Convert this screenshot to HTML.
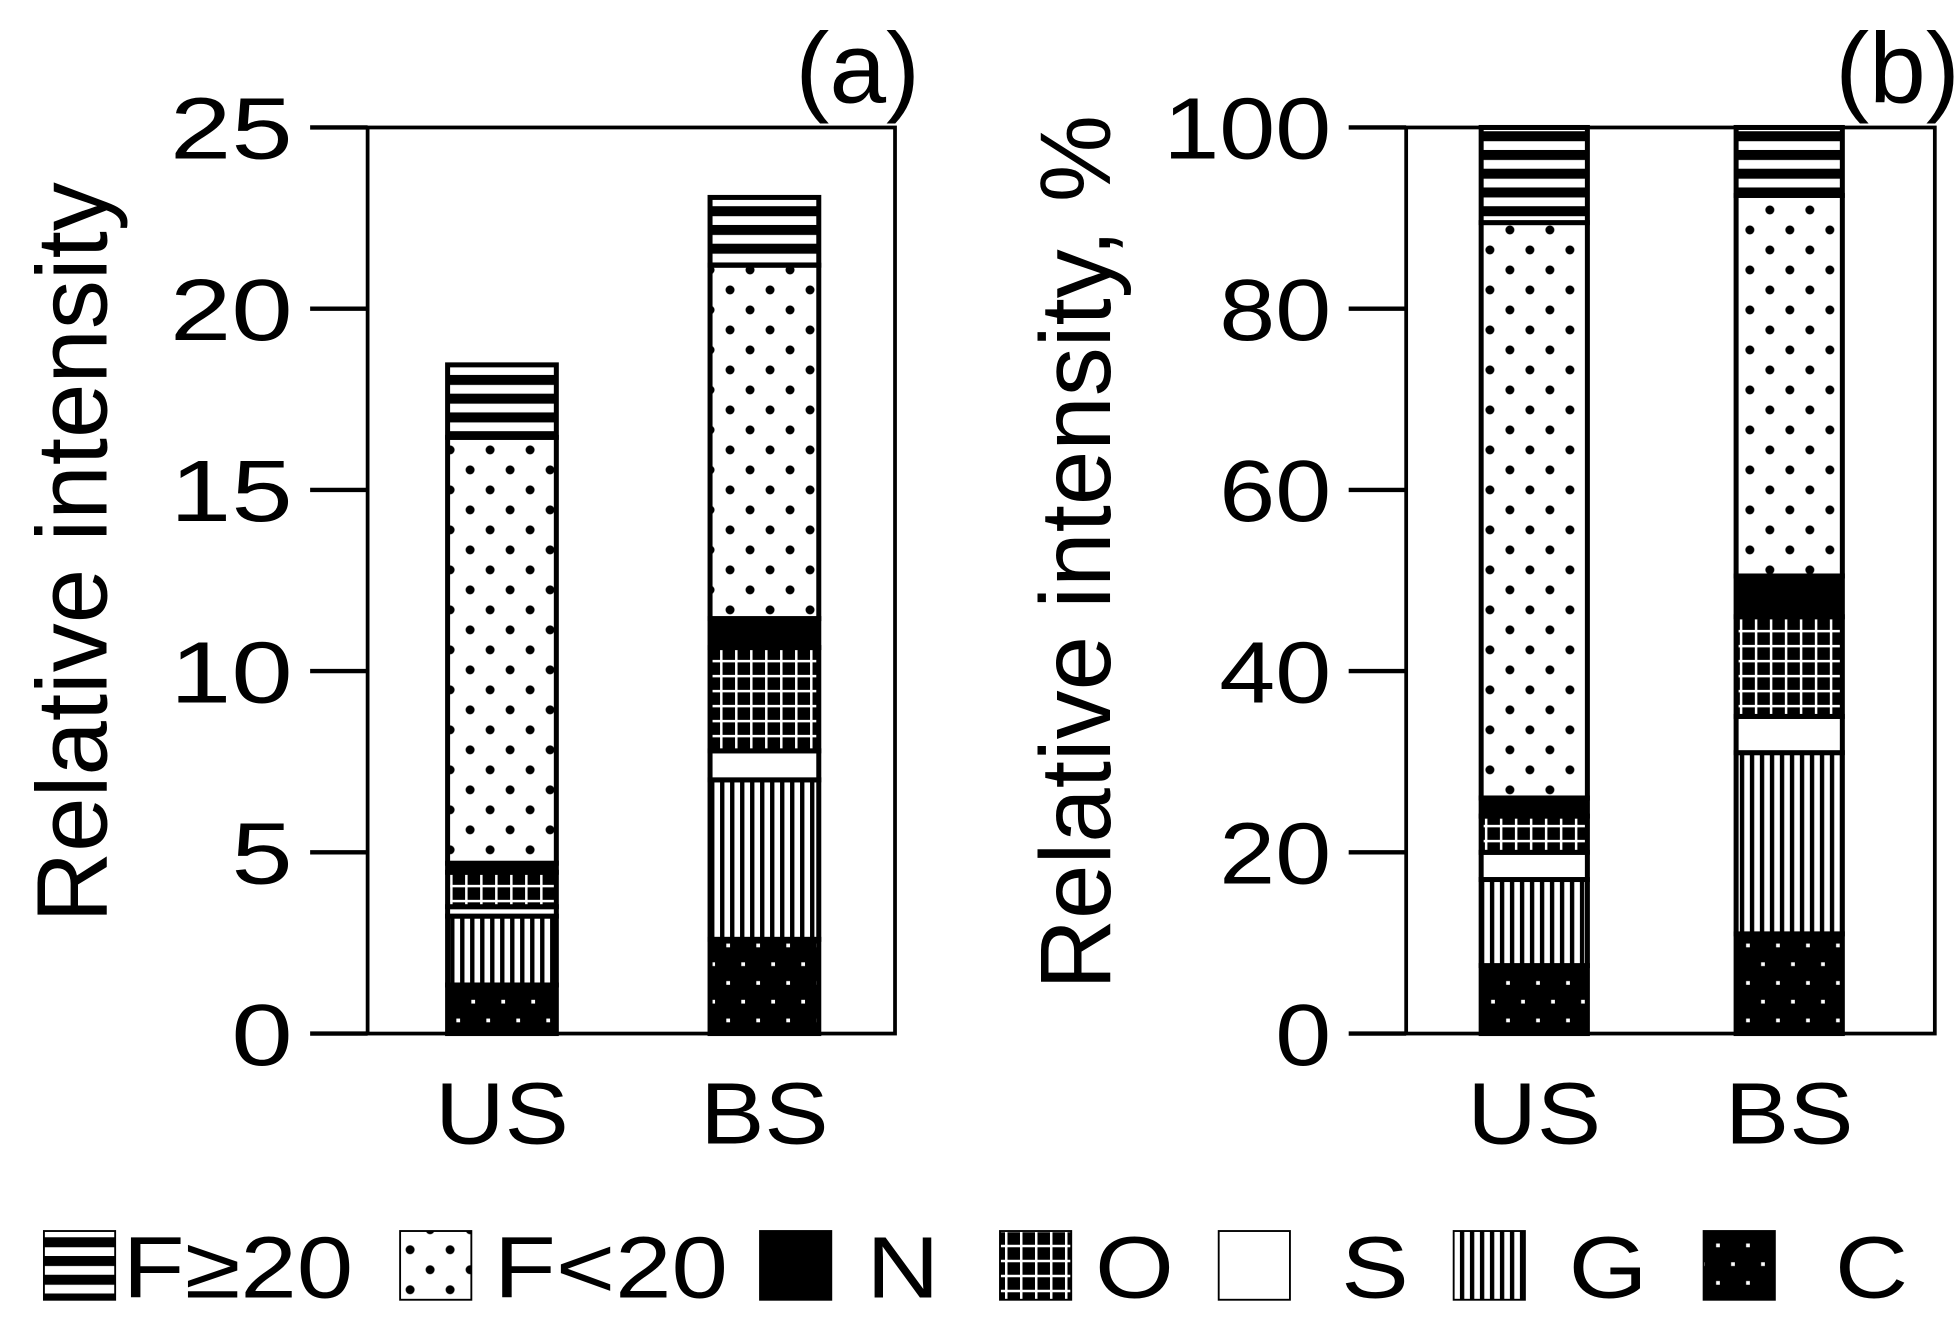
<!DOCTYPE html>
<html><head><meta charset="utf-8"><style>
html,body{margin:0;padding:0;background:#fff;}
svg text{font-family:"Liberation Sans",Arial,sans-serif;fill:#000;}
</style></head><body>
<svg id="chart" width="1960" height="1331" viewBox="0 0 1568 1065" xmlns="http://www.w3.org/2000/svg">
<defs>
<pattern id="pF20" patternUnits="userSpaceOnUse" width="20" height="15"><rect width="20" height="15" fill="#fff"/><rect y="0" width="20" height="8" fill="#000"/></pattern>
<pattern id="pFlt" patternUnits="userSpaceOnUse" width="32" height="32"><rect width="32" height="32" fill="#fff"/><circle cx="8" cy="8" r="3.6" fill="#000"/><circle cx="24" cy="24" r="3.6" fill="#000"/></pattern>
<pattern id="pN" patternUnits="userSpaceOnUse" width="10" height="10"><rect width="10" height="10" fill="#000"/></pattern>
<pattern id="pO" patternUnits="userSpaceOnUse" width="12" height="12"><rect width="12" height="12" fill="#fff"/><rect x="2" y="2" width="10" height="10" fill="#000"/></pattern>
<pattern id="pS" patternUnits="userSpaceOnUse" width="10" height="10"><rect width="10" height="10" fill="#fff"/></pattern>
<pattern id="pG" patternUnits="userSpaceOnUse" width="8" height="10"><rect width="8" height="10" fill="#fff"/><rect x="0" width="3.5" height="10" fill="#000"/></pattern>
<pattern id="pC" patternUnits="userSpaceOnUse" width="24" height="30"><rect width="24" height="30" fill="#000"/><rect x="5" y="5" width="3" height="3" fill="#fff"/><rect x="17" y="20" width="3" height="3" fill="#fff"/></pattern>
</defs>
<g id="plots"></g>
<g id="legend"></g>
</svg>
<script>
const categories = ["US", "BS"];
const seriesNames = ["C", "G", "S", "O", "N", "F<20", "F≥20"];
const seriesLabels = ["F≥20", "F<20", "N", "O", "S", "G", "C"];
// panel (a) segment heights, absolute
const aUS = [1.34, 1.9, 0.26, 0.95, 0.25, 11.75, 2.0];
const aBS = [2.6, 4.4, 0.8, 2.85, 0.8, 9.75, 1.87];
// panel (b) segment heights, percent
const bUS = [7.5, 9.5, 3.0, 4.0, 2.0, 63.5, 10.5];
const bBS = [11, 20, 4, 11, 4.5, 42, 7.5];
const aTicks = [0, 5, 10, 15, 20, 25];
const bTicks = [0, 20, 40, 60, 80, 100];
const pats = ["pC","pG","pS","pO","pN","pFlt","pF20"];
const NS = "http://www.w3.org/2000/svg";
const root = document.getElementById("plots");
function mk(tag, attrs, parent){const e=document.createElementNS(NS,tag);for(const k in attrs)e.setAttribute(k,attrs[k]);(parent||root).appendChild(e);return e;}
function txt(parent, x, y, size, sx, anchor, content, rot){
  const t = mk("text",{x:0,y:0,"font-size":size,"text-anchor":anchor,
    transform:`translate(${x},${y})${rot?' rotate(-90)':''} scale(${sx},1)`},parent);
  t.textContent = content;
  return t;
}

function panel(cfg){
  const g = mk("g",{});
  
  
  const y = v => cfg.y0 - (v/cfg.max)*(cfg.y0-cfg.y1);
  const box = mk("rect",{x:cfg.x0,y:cfg.y1,width:cfg.x1-cfg.x0,height:cfg.y0-cfg.y1,fill:"none",stroke:"#000","stroke-width":3},g);
  
  
  cfg.ticks.forEach(t=>{
    const l = mk("line",{x1:cfg.x0-46,x2:cfg.x0,y1:y(t),y2:y(t),stroke:"#000","stroke-width":3.5},g);
    
    
    const tx = txt(g, cfg.x0-60, y(t)+25, 70, cfg.tickSx, "end", String(t));
    
    
  });
  const yl = txt(g, cfg.labelX, cfg.labelY, 80, cfg.labelSx, "middle", cfg.ylabel, true);
  
  
  const pl = txt(g, cfg.x1+20, 82, 80, 1.02, "end", cfg.tag);
  
  
  cfg.data.forEach((vals,i)=>{
    const bx = cfg.barX[i];
    let cum = 0;
    vals.forEach((v,j)=>{
      const top = y(cum+v), bot = y(cum);
      const r = mk("rect",{x:bx,y:top,width:cfg.bw,height:bot-top,fill:`url(#${pats[j]})`,stroke:"#000","stroke-width":4},g);
      
      
      cum += v;
    });
    const cl = txt(g, bx+cfg.bw/2, cfg.y0+88, 70, 1.1, "middle", categories[i]);
    
    
  });
}
panel({name:"panel-a",x0:294,x1:716,y0:827,y1:102,max:25,ticks:aTicks,data:[aUS,aBS],barX:[358,568],bw:87,labelX:85,labelY:442,labelSx:0.98,tickSx:1.26,ylabel:"Relative intensity",tag:"(a)"});
panel({name:"panel-b",x0:1125,x1:1548,y0:827,y1:102,max:100,ticks:bTicks,data:[bUS,bBS],barX:[1185,1389],bw:85,labelX:888,labelY:442,labelSx:0.98,tickSx:1.15,ylabel:"Relative intensity, %",tag:"(b)"});

const leg = document.getElementById("legend");
const legBoxX = [35, 320, 608, 800, 975, 1163, 1363];
const legTextX = [98, 395, 693, 876, 1073, 1255, 1468];
const legPat = ["pF20","pFlt","pN","pO","pS","pG","pC"];
seriesLabels.forEach((s,i)=>{
  const r = mk("rect",{x:legBoxX[i],y:985,width:57,height:55,fill:`url(#${legPat[i]})`,stroke:"#000","stroke-width":1.5},leg);
  
  
  const t = txt(leg, legTextX[i], 1038, 70, 1.16, "start", s);
  
  
});
</script>
</body></html>
